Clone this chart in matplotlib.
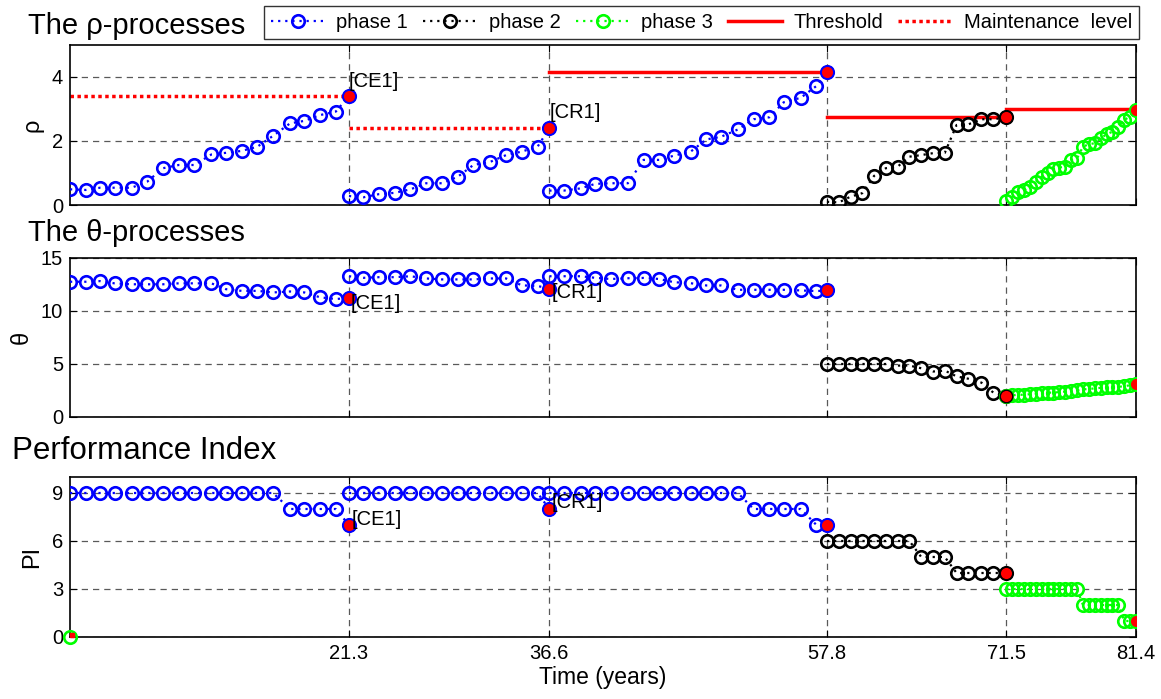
import matplotlib
matplotlib.use("Agg")
import matplotlib.pyplot as plt
from matplotlib.lines import Line2D

plt.rcParams['font.family'] = ['Liberation Sans', 'DejaVu Sans']

# ---------------- data ----------------
x_ticks = [21.3, 36.6, 57.8, 71.5, 81.4]
x_tick_labels = ["21.3", "36.6", "57.8", "71.5", "81.4"]

# phase 1 : three renewal segments
t_p1_s1 = [0, 1.2, 2.3, 3.4, 4.7, 5.9, 7.1, 8.3, 9.5, 10.8, 11.9, 13.1, 14.3, 15.5, 16.8, 17.9, 19.1, 20.3, 21.3]
t_p1_s2 = [21.3, 22.4, 23.6, 24.8, 26.0, 27.2, 28.4, 29.6, 30.8, 32.1, 33.3, 34.5, 35.7, 36.6]
t_p1_s3 = [36.6, 37.7, 39.0, 40.1, 41.3, 42.6, 43.8, 45.0, 46.1, 47.4, 48.6, 49.7, 51.0, 52.2, 53.4, 54.5, 55.8, 57.0, 57.8]
t_p2 = [57.8, 58.7, 59.6, 60.5, 61.4, 62.3, 63.2, 64.1, 65.0, 65.9, 66.8, 67.7, 68.6, 69.6, 70.5, 71.5]
t_p3 = [71.5, 71.95, 72.4, 72.85, 73.3, 73.75, 74.2, 74.65, 75.1, 75.55, 76.0, 76.45,
        76.9, 77.35, 77.8, 78.25, 78.7, 79.15, 79.6, 80.05, 80.5, 80.95, 81.4]

rho_p1_s1 = [0.49, 0.47, 0.54, 0.54, 0.54, 0.73, 1.15, 1.25, 1.25, 1.58, 1.63, 1.69, 1.82, 2.16, 2.55, 2.63, 2.81, 2.92, 3.41]
rho_p1_s2 = [0.28, 0.24, 0.34, 0.38, 0.49, 0.68, 0.68, 0.88, 1.25, 1.35, 1.56, 1.67, 1.82, 2.40]
rho_p1_s3 = [0.45, 0.45, 0.52, 0.66, 0.68, 0.68, 1.41, 1.41, 1.54, 1.67, 2.05, 2.13, 2.36, 2.68, 2.74, 3.21, 3.35, 3.72, 4.17]
rho_p2 = [0.10, 0.08, 0.26, 0.37, 0.91, 1.15, 1.20, 1.51, 1.56, 1.62, 1.63, 2.50, 2.52, 2.68, 2.68, 2.74]
rho_p3 = [0.13, 0.26, 0.42, 0.47, 0.57, 0.73, 0.89, 0.99, 1.13, 1.17, 1.20, 1.41, 1.46, 1.82, 1.90, 1.93,
          2.08, 2.21, 2.29, 2.45, 2.66, 2.76, 2.97]

theta_p1_s1 = [12.76, 12.76, 12.82, 12.61, 12.52, 12.52, 12.52, 12.61, 12.61, 12.61, 12.06, 11.90, 11.90, 11.75, 11.84, 11.75, 11.29, 11.13, 11.23]
theta_p1_s2 = [13.28, 13.13, 13.19, 13.19, 13.28, 13.07, 12.98, 12.98, 12.98, 13.07, 13.07, 12.42, 12.36, 12.12]
theta_p1_s3 = [13.28, 13.28, 13.28, 13.13, 13.02, 13.09, 13.12, 13.02, 12.72, 12.62, 12.41, 12.41, 12.00, 12.00, 12.00, 12.00, 11.94, 11.88, 11.94]
theta_p2 = [5.0, 5.0, 5.0, 5.0, 5.0, 5.0, 4.85, 4.85, 4.6, 4.29, 4.38, 3.83, 3.61, 3.24, 2.31, 2.0]
theta_p3 = [2.0, 2.05, 2.1, 2.1, 2.15, 2.2, 2.25, 2.3, 2.3, 2.35, 2.4, 2.45, 2.5, 2.6, 2.65, 2.7,
            2.75, 2.8, 2.85, 2.85, 2.9, 3.0, 3.1]

pi_p1_s1 = [9, 9, 9, 9, 9, 9, 9, 9, 9, 9, 9, 9, 9, 9, 8, 8, 8, 8, 7]
pi_p1_s2 = [9, 9, 9, 9, 9, 9, 9, 9, 9, 9, 9, 9, 9, 8]
pi_p1_s3 = [9, 9, 9, 9, 9, 9, 9, 9, 9, 9, 9, 9, 9, 8, 8, 8, 8, 7, 7]
pi_p2 = [6, 6, 6, 6, 6, 6, 6, 6, 5, 5, 5, 4, 4, 4, 4, 4]
pi_p3 = [3, 3, 3, 3, 3, 3, 3, 3, 3, 3, 3, 3, 3, 2, 2, 2, 2, 2, 2, 2, 1, 1, 1]

# thresholds (solid) and maintenance levels (dotted): (start, end, level)
thr_start = [36.6, 57.8, 71.5]
thr_end = [57.8, 71.5, 81.4]
thr_level = [4.17, 2.74, 2.99]
mnt_start = [0.0, 21.3]
mnt_end = [21.3, 36.6]
mnt_level = [3.41, 2.40]

# event labels per panel: (t, y, label)
ev_rho = [(21.3, 3.85, "[CE1]"), (36.65, 2.89, "[CR1]")]
ev_theta = [(21.45, 10.7, "[CE1]"), (36.75, 11.75, "[CR1]")]
ev_pi = [(21.5, 7.35, "[CE1]"), (36.75, 8.4, "[CR1]")]

# ---------------- styling ----------------
BLUE, BLACK, GREEN, RED = "#0000ff", "#000000", "#00ff00", "#ff0000"
MS, MEW = 9, 1.9
W, H = 1161, 699

fig = plt.figure(figsize=(W / 100, H / 100), dpi=100)

def box(top, bottom, left=70, right=1136):
    return [left / W, 1 - bottom / H, (right - left) / W, (bottom - top) / H]

ax1 = fig.add_axes(box(45, 205))
ax2 = fig.add_axes(box(258, 417))
ax3 = fig.add_axes(box(477, 637))

def series(ax, t, y, color):
    ln, = ax.plot(t, y, linestyle=(0, (1, 2.2)), lw=1.6, color=color, marker='o', ms=MS,
                  mfc='none', mec=color, mew=MEW, zorder=3)
    return ln

def endpoint(ax, t, y, edge):
    ax.plot([t], [y], linestyle='none', marker='o', ms=MS, mfc=RED, mec=edge, mew=1.0, zorder=4)

panels = [
    (ax1, [rho_p1_s1, rho_p1_s2, rho_p1_s3], rho_p2, rho_p3),
    (ax2, [theta_p1_s1, theta_p1_s2, theta_p1_s3], theta_p2, theta_p3),
    (ax3, [pi_p1_s1, pi_p1_s2, pi_p1_s3], pi_p2, pi_p3),
]
p1_times = [t_p1_s1, t_p1_s2, t_p1_s3]
handles = None
for ax, p1, p2, p3 in panels:
    h1 = None
    for tt, yy in zip(p1_times, p1):
        h1 = series(ax, tt, yy, BLUE)
        endpoint(ax, tt[-1], yy[-1], BLUE)
    h2 = series(ax, t_p2, p2, BLACK)
    endpoint(ax, t_p2[-1], p2[-1], BLACK)
    h3 = series(ax, t_p3, p3, GREEN)
    endpoint(ax, t_p3[-1], p3[-1], GREEN)
    if handles is None:
        handles = [h1, h2, h3]

# odd extra marker at the origin of the PI panel
ax3.plot([0], [0], linestyle='none', marker='o', ms=MS, mfc='none', mec=GREEN, mew=MEW, zorder=3, clip_on=False)
ax3.plot([0.15], [0.12], linestyle='none', marker='s', ms=3.5, mfc=RED, mec=RED, zorder=4, clip_on=False)

for s, e, lv in zip(thr_start, thr_end, thr_level):
    ax1.plot([s, e], [lv, lv], color=RED, lw=2.5, zorder=2)
for s, e, lv in zip(mnt_start, mnt_end, mnt_level):
    ax1.plot([s, e], [lv, lv], color=RED, lw=2.5, linestyle=(0, (1, 1)), zorder=2)

for ax, evs in [(ax1, ev_rho), (ax2, ev_theta), (ax3, ev_pi)]:
    for t, y, lab in evs:
        ax.text(t, y, lab, fontsize=14.5, ha='left', va='center', zorder=5)

ylims = [(0, 5), (0, 15), (0, 10)]
yticks = [[0, 2, 4], [0, 5, 10, 15], [0, 3, 6, 9]]
ylabels = ["ρ", "θ", "PI"]
for ax, yl, yt, lab in zip([ax1, ax2, ax3], ylims, yticks, ylabels):
    ax.set_xlim(0, 81.4)
    ax.set_ylim(*yl)
    ax.set_yticks(yt)
    ax.set_xticks(x_ticks)
    ax.grid(True, color='0.35', linestyle=(0, (5, 4)), lw=0.9)
    ax.tick_params(direction='in', length=5, width=0.8, top=True, right=True, labelsize=14.5, pad=5)
    ax.set_ylabel(lab, fontsize=17, labelpad=6)
    for sp in ax.spines.values():
        sp.set_linewidth(1.2)
ax1.set_xticklabels([])
ax2.set_xticklabels([])
ax3.set_xticklabels(x_tick_labels)
ax3.set_xlabel("Time (years)", fontsize=16.5, labelpad=2)

fig.text(28 / W, 1 - 26 / H, "The ρ-processes", fontsize=21, ha='left', va='center')
fig.text(28 / W, 1 - 233 / H, "The θ-processes", fontsize=21, ha='left', va='center')
fig.text(12 / W, 1 - 451 / H, "Performance Index", fontsize=22.5, ha='left', va='center')

thr_h = Line2D([], [], color=RED, lw=2.5)
mnt_h = Line2D([], [], color=RED, lw=2.5, linestyle=(0, (1, 1)))
leg = fig.legend(handles + [thr_h, mnt_h],
                 ["phase 1", "phase 2", "phase 3", "Threshold", "Maintenance  level"],
                 loc='upper right', bbox_to_anchor=(1139 / W, 1 - 6 / H), ncol=5,
                 fontsize=14.5, frameon=True, fancybox=False, edgecolor='black',
                 handlelength=2.7, handletextpad=0.55, columnspacing=0.75, borderpad=0.35,
                 borderaxespad=0.0)
leg.get_frame().set_linewidth(1.0)

fig.savefig("out.png", dpi=100)
